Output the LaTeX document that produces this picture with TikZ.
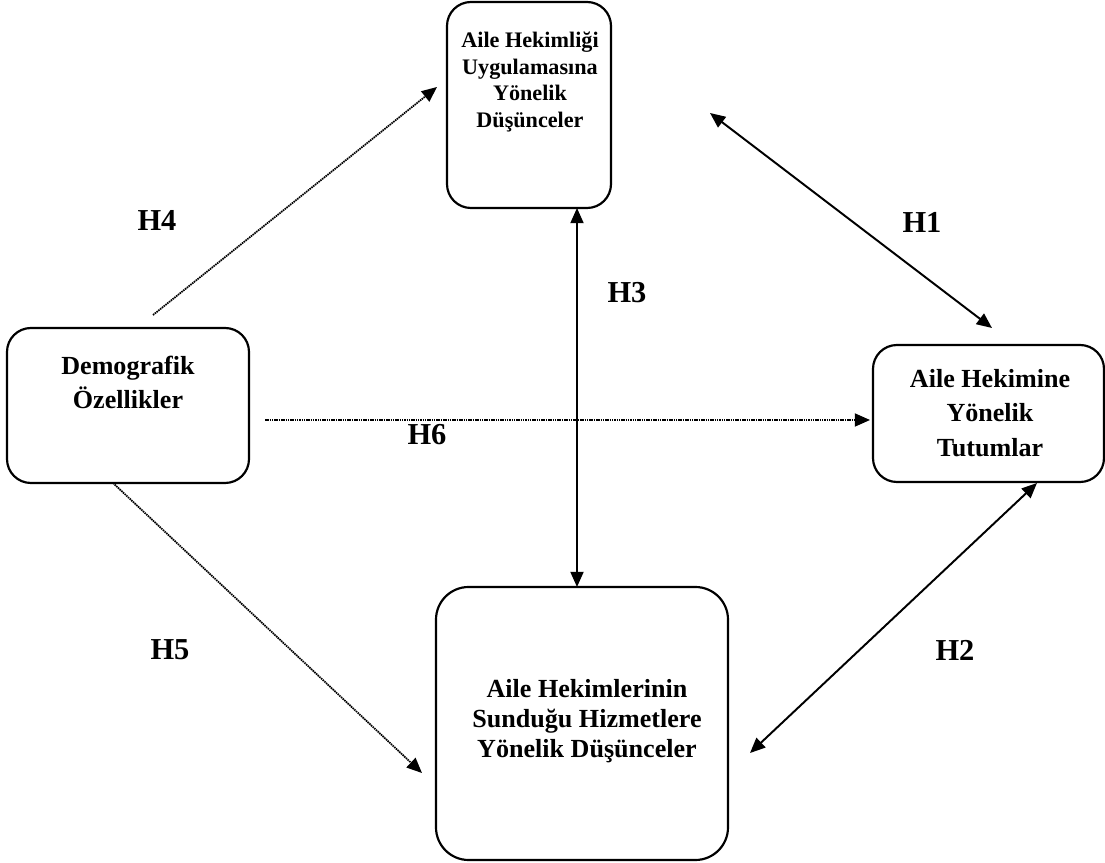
\documentclass[tikz,border=0pt]{standalone}
\usepackage{fontspec}
\setmainfont{Liberation Serif}
\usetikzlibrary{arrows.meta}

\begin{document}
\begin{tikzpicture}[x=0.46pt, y=-0.46pt,
        >={Triangle[length=7pt,width=6pt]},
        kutu/.style={draw, line width=1pt, rounded corners=11pt, inner sep=0pt},
        yazi/.style={align=center, inner sep=0pt},
        etiket/.style={inner sep=0pt, font=\bfseries\fontsize{14}{16}\selectfont},
        kalin/.style={line width=0.9pt},
        noktali/.style={line width=0.8pt, dash pattern=on 0.7pt off 0.35pt}]
            \useasboundingbox (0,0) rectangle (1105,863);

            % kutular
            \node[kutu, minimum width=75.44pt, minimum height=94.76pt] (ust) at (529,105) {};
            \node[kutu, minimum width=111.32pt, minimum height=71.3pt] (demo) at (128,405.5) {};
            \node[kutu, minimum width=106.26pt, minimum height=63.02pt] (sag) at (988.5,413.5) {};
            \node[kutu, rounded corners=15pt, minimum width=134.32pt, minimum height=125.58pt] (alt) at (582,723.5) {};

            \node[yazi, font=\bfseries\fontsize{10.2}{12.4}\selectfont] (ustyazi) at (530,82) {Aile Hekimliği\\Uygulamasına\\Yönelik\\Düşünceler};
            \node[yazi, font=\bfseries\fontsize{12}{15.6}\selectfont] (demoyazi) at (128,382) {Demografik\\Özellikler};
            \node[yazi, font=\bfseries\fontsize{12}{15.9}\selectfont] (sagyazi) at (990,413) {Aile Hekimine\\Yönelik\\Tutumlar};
            \node[yazi, font=\bfseries\fontsize{12}{13.8}\selectfont] (altyazi) at (587,721) {Aile Hekimlerinin\\Sunduğu Hizmetlere\\Yönelik Düşünceler};

            % oklarin uclari
            \coordinate (h4a) at (153,315);
            \coordinate (h4b) at (437,87);
            \coordinate (h6a) at (265,420);
            \coordinate (h6b) at (870,420);
            \coordinate (h5a) at (113,483);
            \coordinate (h5b) at (422,773);
            \coordinate (h3a) at (577,208);
            \coordinate (h3b) at (577,587);
            \coordinate (h1a) at (710,113);
            \coordinate (h1b) at (992,328);
            \coordinate (h2a) at (1037,483);
            \coordinate (h2b) at (750,753);

            \draw[noktali, ->] (h4a) to (h4b);
            \draw[noktali, ->] (h6a) to (h6b);
            \draw[noktali, ->] (h5a) to (h5b);
            \draw[kalin, <->] (h3a) to (h3b);
            \draw[kalin, <->] (h1a) to (h1b);
            \draw[kalin, <->] (h2a) to (h2b);

            \node[etiket] (e4) at (157,220) {H4};
            \node[etiket] (e1) at (922,222) {H1};
            \node[etiket] (e3) at (627,293) {H3};
            \node[etiket] (e6) at (427,435) {H6};
            \node[etiket] (e5) at (170,650) {H5};
            \node[etiket] (e2) at (955,650) {H2};
        \end{tikzpicture}
\end{document}
